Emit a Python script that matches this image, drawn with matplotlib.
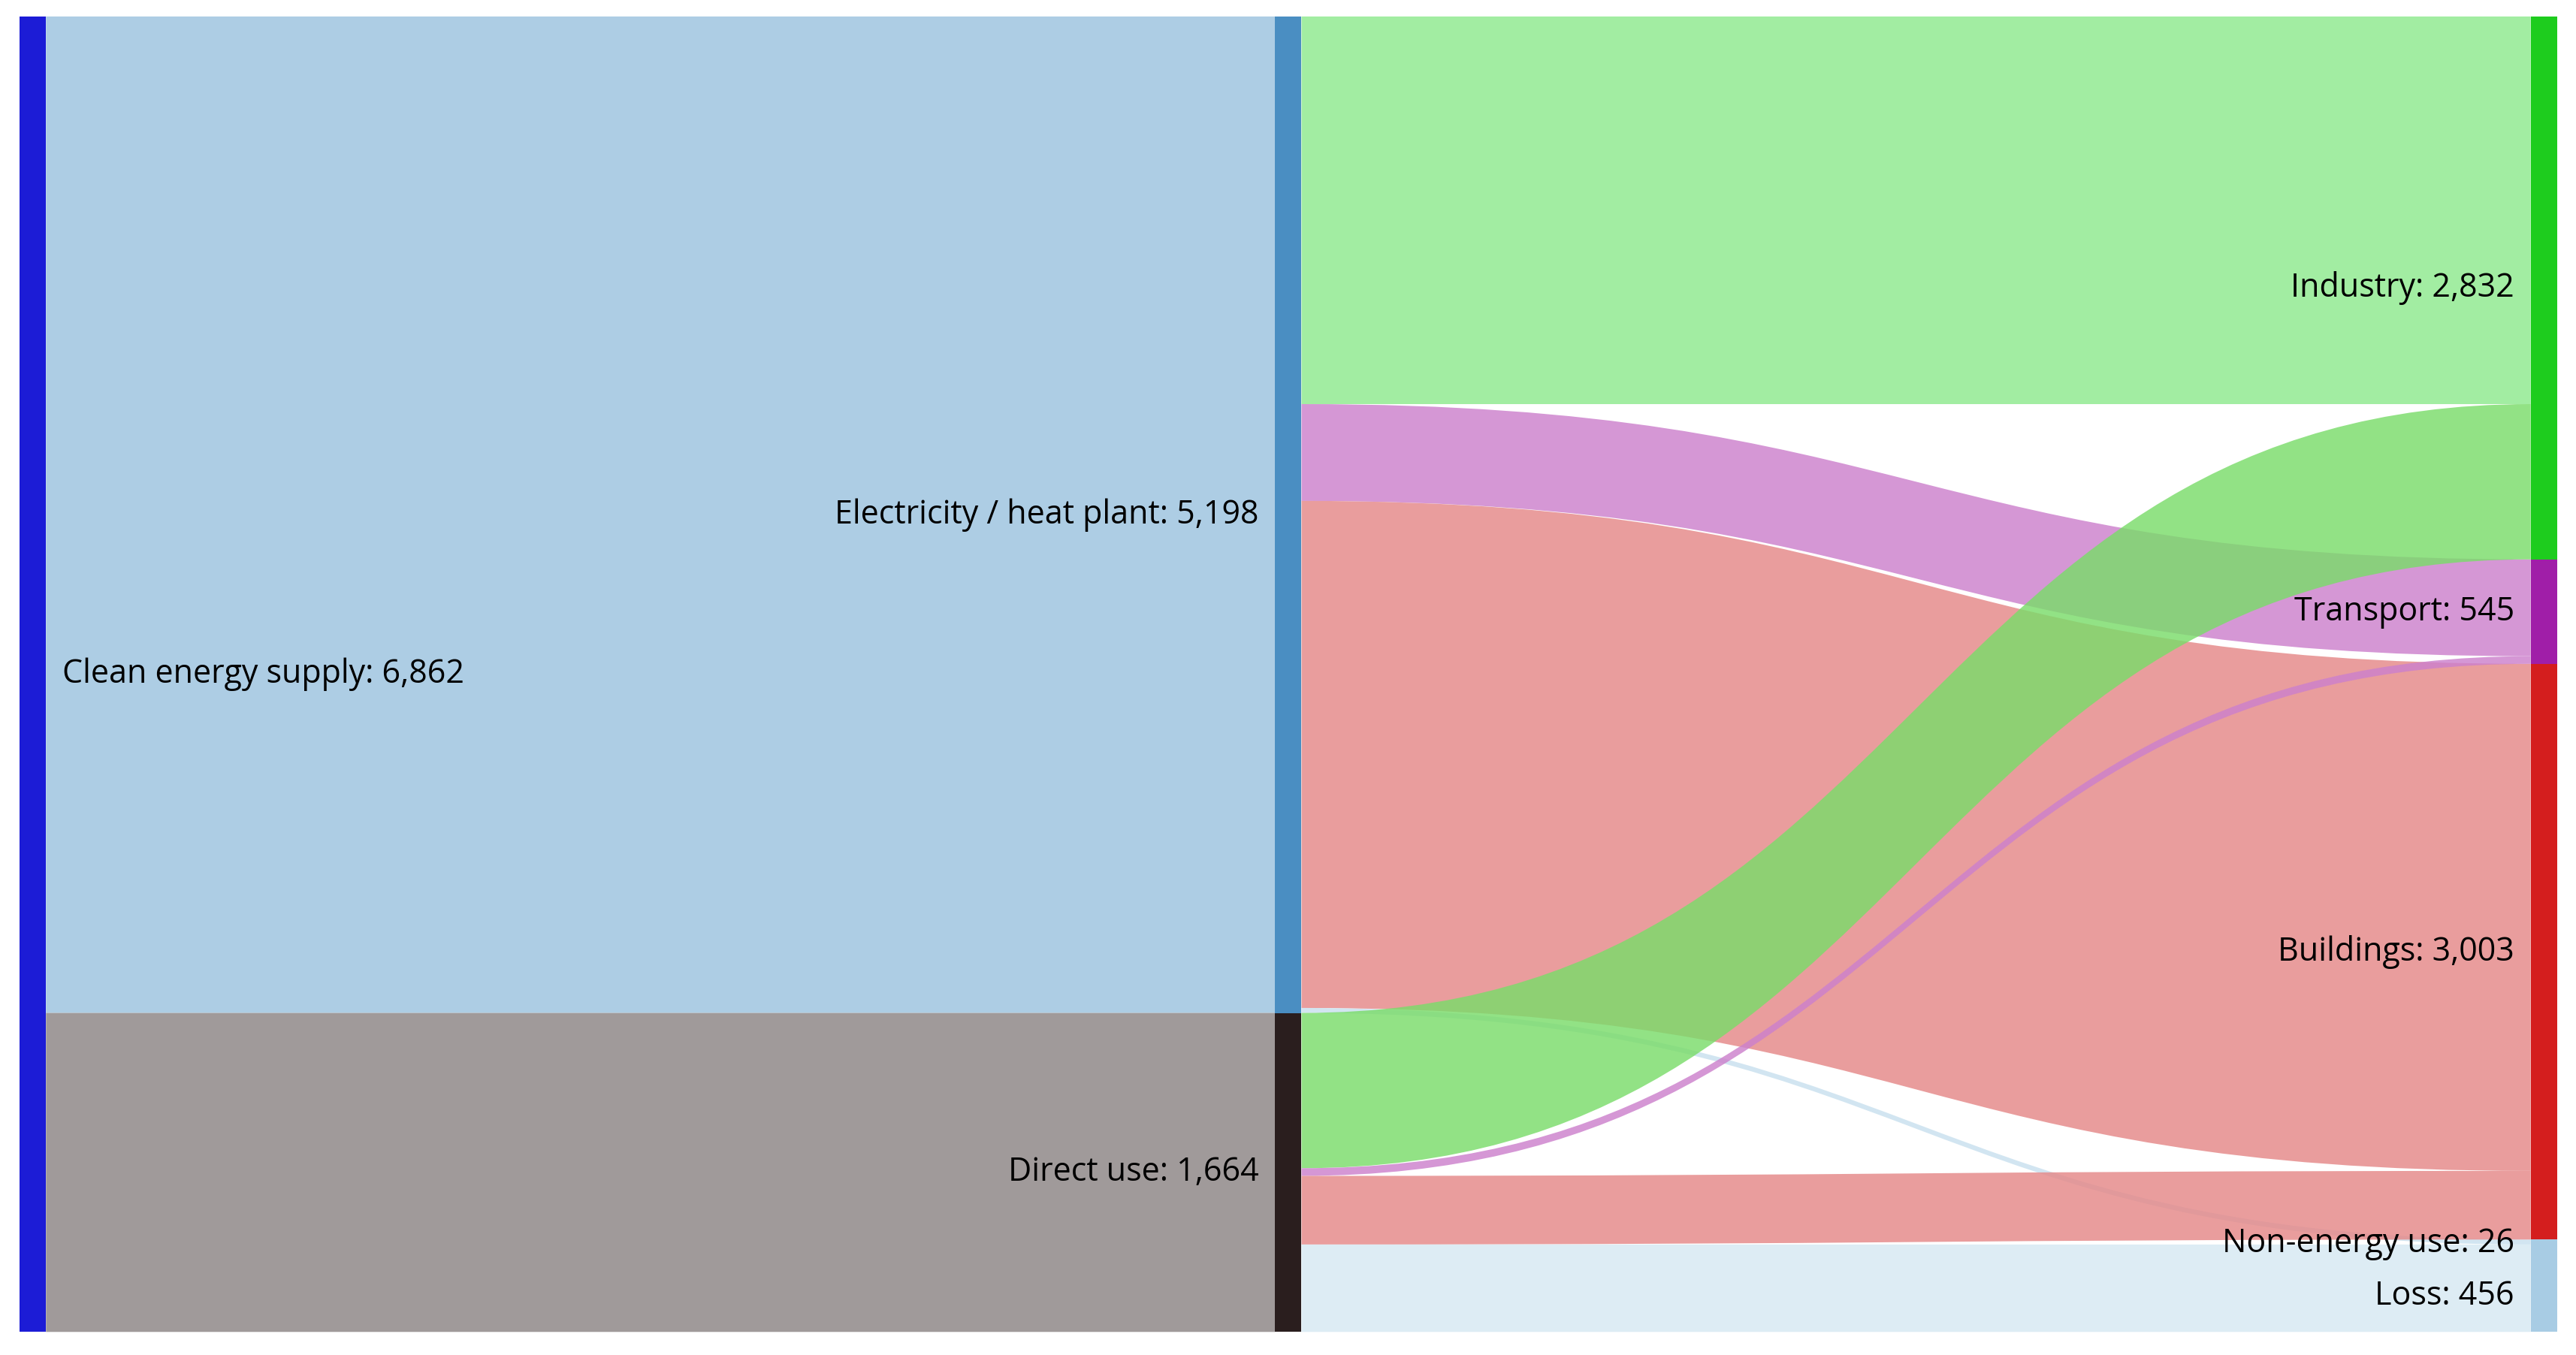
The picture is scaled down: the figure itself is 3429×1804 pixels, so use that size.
import matplotlib
matplotlib.use("Agg")
import matplotlib.pyplot as plt
import numpy as np
from matplotlib.path import Path
from matplotlib.patches import PathPatch, Rectangle

nodes = ["Clean energy supply", "Electricity / heat plant", "Direct use",
         "Industry", "Transport", "Buildings", "Non-energy use", "Loss"]
node_totals = [6862, 5198, 1664, 2832, 545, 3003, 26, 456]
sources = [0, 0, 1, 1, 1, 1, 2, 2, 2, 2]
targets = [1, 2, 3, 4, 5, 6, 3, 4, 5, 7]
values = [5198, 1664, 2022, 505, 2645, 26, 810, 40, 358, 456]

node_col = ["#1C1CD6", "#4A8EC2", "#2A1E1E", "#1ECC1E", "#A01EA8", "#D41E1E", "#A8CCE4", "#A8CCE4"]
flow_col = {1: "#ADCDE4", 2: "#A09A9A", 3: "#8EEA8E", 4: "#CC80CC", 5: "#E58888", 6: "#C8E0EE", 7: "#D6E8F2"}
col_x = {0: 12, 1: 776, 2: 776, 3: 1540, 4: 1540, 5: 1540, 6: 1540, 7: 1540}
W = 16

top = {0: 0}
y = 0
for n in [1, 2]:
    top[n] = y; y += node_totals[n]
y = 0
for n in [3, 4, 5, 6, 7]:
    top[n] = y; y += node_totals[n]

fig = plt.figure(figsize=(34.3, 18.04), dpi=100)
ax = fig.add_axes([0, 0, 1, 1])
upp = 6862 / 798
ax.set_xlim(0, 1568)
ax.set_ylim(6862 + 14 * upp, -10 * upp)
ax.axis("off")

out_off = {n: 0 for n in range(8)}
in_off = {n: 0 for n in range(8)}
for s, t, v in zip(sources, targets, values):
    y0 = top[s] + out_off[s]; out_off[s] += v
    y1 = top[t] + in_off[t]; in_off[t] += v
    x0 = col_x[s] + W; x1 = col_x[t]
    xm = (x0 + x1) / 2
    verts = [(x0, y0), (xm, y0), (xm, y1), (x1, y1),
             (x1, y1 + v), (xm, y1 + v), (xm, y0 + v), (x0, y0 + v), (x0, y0)]
    codes = [Path.MOVETO, Path.CURVE4, Path.CURVE4, Path.CURVE4,
             Path.LINETO, Path.CURVE4, Path.CURVE4, Path.CURVE4, Path.CLOSEPOLY]
    a = 1.0 if s == 0 else 0.82
    fc = flow_col[t]
    if s == 2 and t == 3:
        fc = "#7ADC6A"
    ax.add_patch(PathPatch(Path(verts, codes), fc=fc, ec="none", alpha=a, zorder=1))

fs = 31
for n in range(8):
    ax.add_patch(Rectangle((col_x[n], top[n]), W, node_totals[n], fc=node_col[n], ec="none", zorder=3))
    lab = f"{nodes[n]}: {node_totals[n]:,}"
    yc = top[n] + node_totals[n] / 2
    if n == 0:
        ax.text(col_x[n] + W + 10, yc, lab, ha="left", va="center", fontsize=fs,
                family="Open Sans", zorder=4)
    else:
        if n == 6: yc += 10
        if n == 7: yc += 40
        ax.text(col_x[n] - 10, yc, lab, ha="right", va="center", fontsize=fs,
                family="Open Sans", zorder=4)

fig.savefig("out.png", dpi=100)
